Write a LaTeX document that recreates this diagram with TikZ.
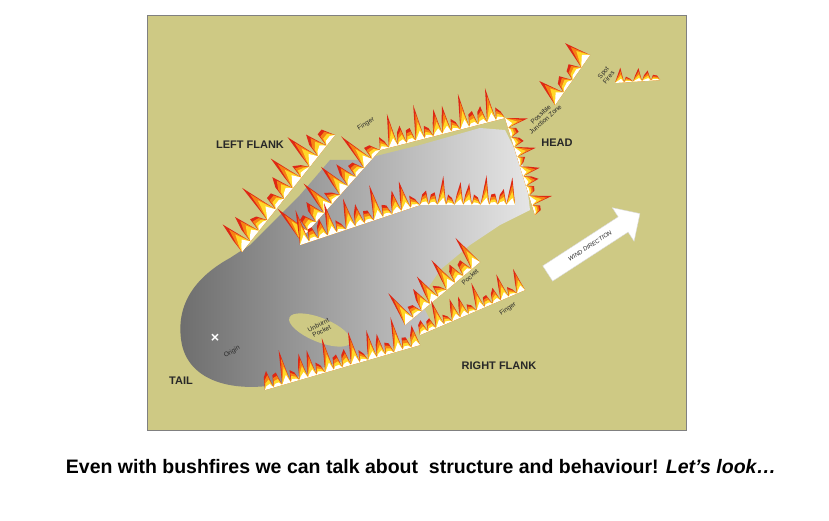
\documentclass[tikz,border=0pt]{standalone}
\usepackage{fontspec}
\setmainfont{Liberation Sans}
\usetikzlibrary{shapes.arrows}
\definecolor{khaki}{RGB}{206,201,132}
\definecolor{fred}{RGB}{222,40,20}
\definecolor{forange}{RGB}{245,130,20}
\definecolor{fyellow}{RGB}{255,215,40}
\definecolor{txt}{RGB}{40,40,40}
\tikzset{
  lbl/.style={font=\fontsize{11}{13}\selectfont\bfseries,text=txt},
  sml/.style={font=\fontsize{6.5}{7}\selectfont,text=txt,align=center,inner sep=0pt}
}
\newcommand{\flamerow}[7]{% x1 y1 x2 y2 h n color
  \pgfmathsetmacro\fdx{#3-#1}\pgfmathsetmacro\fdy{#4-#2}%
  \pgfmathsetmacro\flen{veclen(\fdx,\fdy)}%
  \pgfmathsetmacro\fnx{\fdy/\flen}\pgfmathsetmacro\fny{-\fdx/\flen}%
  \fill[#7] (#1,#2) \foreach \i in {1,...,#6}{
    -- ({#1+(\i-0.75)/#6*\fdx+\fnx*#5*0.35},{#2+(\i-0.75)/#6*\fdy+\fny*#5*0.35})
    -- ({#1+(\i-0.3)/#6*\fdx+\fnx*#5*(0.6+0.4*sin(\i*137+#1*7))},{#2+(\i-0.3)/#6*\fdy+\fny*#5*(0.6+0.4*sin(\i*137+#1*7))})
    -- ({#1+\i/#6*\fdx},{#2+\i/#6*\fdy}) } -- cycle;}
\newcommand{\flame}[6]{% x1 y1 x2 y2 h n
  \flamerow{#1}{#2}{#3}{#4}{#5}{#6}{fred}
  \flamerow{#1}{#2}{#3}{#4}{0.75*#5}{#6}{forange}
  \flamerow{#1}{#2}{#3}{#4}{0.5*#5}{#6}{fyellow}
  \flamerow{#1}{#2}{#3}{#4}{0.25*#5}{#6}{white}}
\begin{document}
\begin{tikzpicture}[x=1pt,y=-1pt]
\useasboundingbox (0,0) rectangle (829,521);
\fill[white] (0,0) rectangle (829,521);
\draw[gray,fill=khaki] (147,15) rectangle (686,430);
% burnt area
\shade[left color=gray!85!black,right color=gray!20] (182,345) .. controls (175,310) and (190,280) .. (230,258)
 -- (250,245) -- (300,195) -- (330,160) -- (360,160) -- (420,145) -- (480,128) -- (505,130)
 -- (525,170) -- (530,210) -- (500,225) -- (470,245) -- (440,270) -- (420,300) -- (430,320)
 -- (400,345) -- (330,365) -- (275,385) .. controls (230,392) and (190,380) .. (182,345) -- cycle;
\fill[khaki,rotate around={-22:(320,330)}] (320,330) ellipse (33 and 12);
% flames
\flame{242}{252}{335}{135}{40}{11}
\flame{300}{240}{380}{150}{38}{10}
\flame{380}{150}{505}{118}{36}{14}
\flame{505}{118}{535}{215}{22}{10}
\flame{300}{245}{420}{205}{35}{13}
\flame{420}{205}{515}{205}{30}{11}
\flame{405}{325}{480}{262}{35}{9}
\flame{420}{335}{525}{290}{28}{13}
\flame{265}{390}{420}{345}{35}{18}
\flame{555}{105}{590}{55}{28}{4}
\flame{615}{83}{660}{80}{16}{5}
% labels
\node[lbl] (lf) at (250,145) {LEFT FLANK};
\node[lbl] (hd) at (557,143) {HEAD};
\node[lbl] (tl) at (181,381) {TAIL};
\node[lbl] (rf) at (499,366) {RIGHT FLANK};
\node[sml,rotate=30] (fg1) at (366,124) {Finger};
\node[sml,rotate=42] (pj) at (543,117) {Possible\\Junction Zone};
\node[sml,rotate=50] (sf) at (606,75) {Spot\\Fires};
\node[sml,rotate=42] (pk) at (470,277) {Pocket};
\node[sml,rotate=35] (fg2) at (508,309) {Finger};
\node[sml,rotate=28] (up) at (320,328) {Unburnt\\Pocket};
\node[sml,rotate=30] (og) at (232,352) {Origin};
\node[font=\bfseries\Large,text=white] (x) at (215,338) {\texttimes};
% wind arrow
\node[single arrow,fill=white,draw=gray!30,minimum height=110,minimum width=40,single arrow head extend=10,inner xsep=6pt,inner ysep=6pt,rotate=33,font=\fontsize{6}{7}\selectfont\itshape,text=txt] (wa) at (590,246) {WIND DIRECTION};
% caption
\node[font=\fontsize{19.5}{22}\selectfont\bfseries] (cap) at (421,467) {Even with bushfires we can talk about\ \ structure and behaviour! \textit{Let’s look…}};
\end{tikzpicture}
\end{document}
